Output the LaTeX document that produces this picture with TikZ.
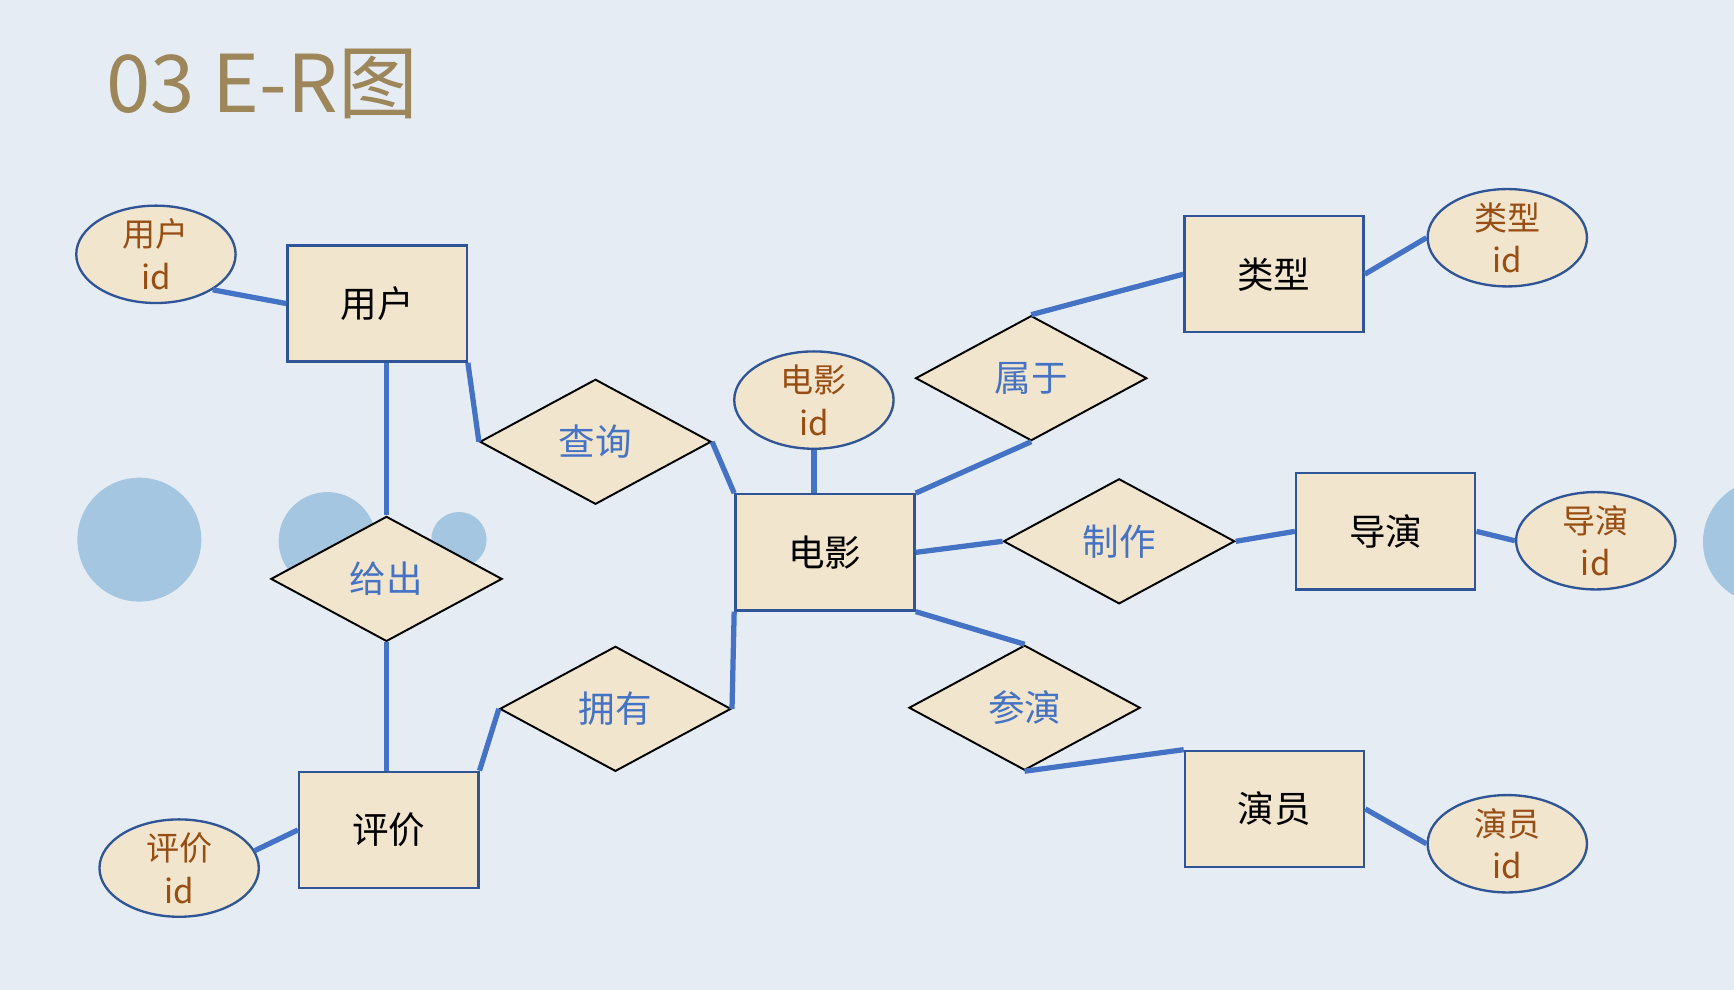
\documentclass[tikz,border=0pt]{standalone}
\usepackage{fontspec}
\setmainfont{Noto Sans CJK SC}
\usetikzlibrary{shapes.geometric, positioning}

\definecolor{bgcol}{HTML}{E6ECF4}
\definecolor{beige}{HTML}{F2E5CD}
\definecolor{entline}{HTML}{2F5597}
\definecolor{linkblue}{HTML}{4472C4}
\definecolor{attrbrown}{HTML}{984D12}
\definecolor{bubbleblue}{HTML}{A4C6E0}
\definecolor{gold}{HTML}{9C865A}

\begin{document}
\begin{tikzpicture}[
    x=0.01cm, y=-0.01cm, % one unit per pixel of the slide
    entity/.style={rectangle, draw=entline, line width=0.6pt, fill=beige, minimum width=1.62cm, minimum height=1.05cm, font=\fontsize{9.4}{11}\selectfont},
    relation/.style={diamond, aspect=2, draw=black, line width=0.5pt, fill=beige, minimum width=2.09cm, minimum height=1.13cm, inner sep=1pt, text=linkblue, font=\fontsize{9.4}{11}\selectfont},
    attr/.style={ellipse, draw=entline, line width=0.6pt, fill=beige, minimum width=1.44cm, minimum height=0.88cm, inner xsep=0pt, inner ysep=-2pt, align=center, text=attrbrown, font=\fontsize{8.5}{11}\selectfont},
    link/.style={draw=linkblue, line width=1.35pt},
    bubble/.style={fill=bubbleblue}
]

% Background
\useasboundingbox (0,0) rectangle (1568,895);
\clip (0,0) rectangle (1568,895);
\fill [bgcol] (0,0) rectangle (1568,895);

% Decorative circles
\fill [bubble] (126,488) circle (0.56cm);
\fill [bubble] (296,489) circle (0.44cm);
\fill [bubble] (415,488) circle (0.25cm);
\fill [bubble] (1596,490) circle (0.56cm);

% Title
\node (title) at (84,76) [anchor=west, text=gold, font=\fontsize{20.5}{23}\selectfont] {03 E-R图};

% Entities
\node (user) at (341,274.5) [entity] {用户};
\node (movie) at (746,499.5) [entity] {电影};
\node (genre) at (1152,248) [entity] {类型};
\node (director) at (1253,480.5) [entity] {导演};
\node (actor) at (1152.5,731.5) [entity] {演员};
\node (review) at (351.5,750.5) [entity] {评价};

% Attributes
\node (userid) at (141,230) [attr] {用户\\id};
\node (movieid) [attr, above=3.9mm of movie, xshift=-1mm] {电影\\id};
\node (genreid) at (1363,215) [attr] {类型\\id};
\node (directorid) at (1443,489) [attr] {导演\\id};
\node (actorid) at (1363,763) [attr] {演员\\id};
\node (reviewid) at (162,785) [attr] {评价\\id};

% Relationships
\node (query) at (538.5,399.5) [relation] {查询};
\node (belong) at (932.5,342) [relation] {属于};
\node (make) at (1012,489.5) [relation] {制作};
\node (act) at (926.5,640) [relation] {参演};
\node (give) at (349.5,523.5) [relation] {给出};
\node (own) at (556.5,641) [relation] {拥有};

% Connections
\draw [link] (userid.-32) -- (user.west);
\draw [link] (user.south -| give.north) -- (give.north);
\draw [link] (user.south east) -- (query.west);
\draw [link] (query.east) -- (movie.north west);
\draw [link] (movieid.south) -- (movieid.south |- movie.north);
\draw [link] (movie.north east) -- (belong.south);
\draw [link] (belong.north) -- (genre.west);
\draw [link] (genre.east) -- (genreid.west);
\draw [link] (movie.east) -- (make.west);
\draw [link] (make.east) -- (director.west);
\draw [link] (director.east) -- (directorid.west);
\draw [link] (movie.south east) -- (act.north);
\draw [link] (act.south) -- (actor.north west);
\draw [link] (actor.east) -- (actorid.west);
\draw [link] (movie.south west) -- (own.east);
\draw [link] (own.west) -- (review.north east);
\draw [link] (give.south) -- (give.south |- review.north);
\draw [link] (reviewid.13) -- (review.west);

\end{tikzpicture}
\end{document}
